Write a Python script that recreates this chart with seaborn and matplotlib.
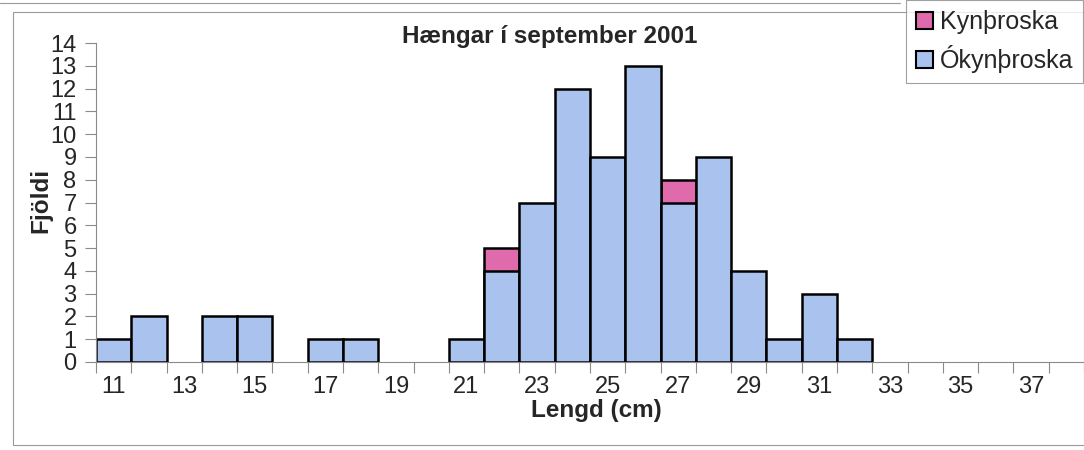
import pandas as pd
import matplotlib.pyplot as plt
import seaborn as sns
from matplotlib.patches import Patch, Rectangle
from matplotlib.lines import Line2D

# -----------------------------
# Data
# -----------------------------
lengd = list(range(11, 39))  # length classes (cm)
okynthroska = [1, 2, 0, 2, 2, 0, 1, 1, 0, 0, 1, 4, 7, 12, 9, 13, 7, 9, 4, 1, 3, 1,
               0, 0, 0, 0, 0, 0]
kynthroska = [0, 0, 0, 0, 0, 0, 0, 0, 0, 0, 0, 1, 0, 0, 0, 0, 1, 0, 0, 0, 0, 0,
              0, 0, 0, 0, 0, 0]
tick_labels = [str(v) if v % 2 == 1 else "" for v in lengd]

BLUE = "#a9c3ee"
PINK = "#df6aac"
GREY = "#8a8a8a"

sns.set_style("white")
plt.rcParams["font.family"] = ["Liberation Sans", "DejaVu Sans"]

df = pd.DataFrame({"lengd": [str(v) for v in lengd],
                   "oky": okynthroska,
                   "ky": kynthroska})
df["total"] = df["oky"] + df["ky"]
order = df["lengd"].tolist()

fig = plt.figure(figsize=(10.84, 4.5), dpi=100)
W, H = 1084, 450
x0, x1, y0, y1 = 96, 1084, 362, 43
ax = fig.add_axes([x0 / W, (H - y0) / H, (x1 - x0) / W, (y0 - y1) / H])

# stacked bars: total (pink shows on top), then blue part over it
sns.barplot(data=df[df["ky"] > 0], x="lengd", y="total", order=order,
            color=PINK, saturation=1, width=1.0, edgecolor="black",
            linewidth=1.8, ax=ax)
sns.barplot(data=df[df["oky"] > 0], x="lengd", y="oky", order=order,
            color=BLUE, saturation=1, width=1.0, edgecolor="black",
            linewidth=1.8, ax=ax)

ax.set_xlim(-0.5, -0.5 + (x1 - x0) / 35.7)
ax.set_ylim(0, 14)
ax.set_yticks(range(0, 15))
ax.set_xticks(range(len(lengd)))
ax.set_xticklabels(tick_labels)
ax.set_xticks([i - 0.5 for i in range(len(lengd) + 1)], minor=True)

ax.tick_params(axis="y", labelsize=17, length=8, width=0.8, color=GREY,
               pad=6, left=True, direction="out")
ax.tick_params(axis="x", which="major", labelsize=17, length=0, pad=10)
ax.tick_params(axis="x", which="minor", length=8, width=0.8, color=GREY,
               bottom=True, direction="out")

for s in ["top", "right"]:
    ax.spines[s].set_visible(False)
for s in ["left", "bottom"]:
    ax.spines[s].set_color(GREY)
    ax.spines[s].set_linewidth(0.8)

ax.set_title("Hængar í september 2001", fontsize=17.5, fontweight="bold",
             x=(550 - x0) / (x1 - x0), y=1.0, va="baseline", pad=0)
ax.set_xlabel("Lengd (cm)", fontsize=17.5, fontweight="bold")
ax.xaxis.set_label_coords((596 - x0) / (x1 - x0), (y0 - 411) / (y0 - y1))
ax.xaxis.label.set_va("center")
ax.set_ylabel("Fjöldi", fontsize=17.5, fontweight="bold")
ax.yaxis.set_label_coords((41 - x0) / (x1 - x0), (y0 - 200) / (y0 - y1))
ax.yaxis.label.set_va("center")

handles = [Patch(facecolor=PINK, edgecolor="black", linewidth=1.5),
           Patch(facecolor=BLUE, edgecolor="black", linewidth=1.5)]
leg = fig.legend(handles, ["Kynþroska", "Ókynþroska"], loc="upper right",
                 bbox_to_anchor=(1083 / W, 1.0), fontsize=18, frameon=True,
                 fancybox=False, handlelength=0.68, handleheight=0.68,
                 handletextpad=0.28, borderpad=0.4, labelspacing=0.45,
                 borderaxespad=0)
leg.get_frame().set_edgecolor(GREY)
leg.get_frame().set_linewidth(0.8)

# chart-area border from the original sheet
fig.patches.append(Rectangle((13 / W, (H - 445) / H), (W - 13) / W, (445 - 12) / H,
                             transform=fig.transFigure, fill=False,
                             edgecolor="#9a9a9a", linewidth=0.8))
fig.lines.append(Line2D([0, 900 / W], [(H - 3) / H, (H - 3) / H],
                        transform=fig.transFigure, color="#9a9a9a", linewidth=0.8))

fig.savefig("out.png", dpi=100)
